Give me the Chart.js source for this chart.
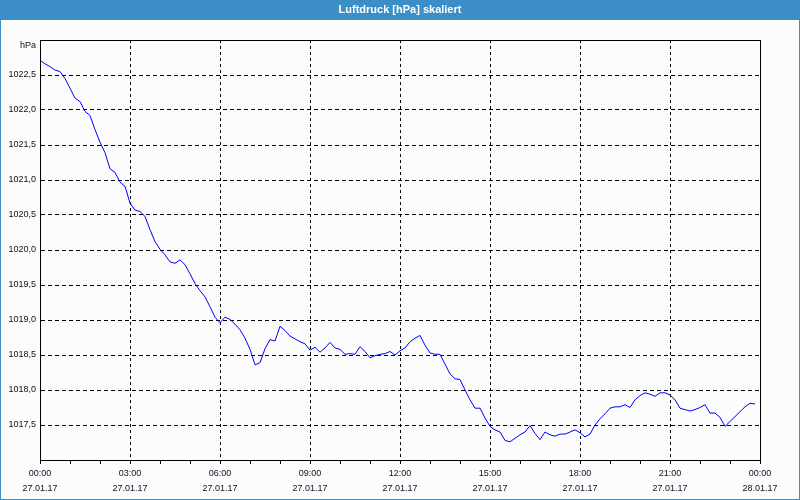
<!DOCTYPE html>
<html>
<head>
<meta charset="utf-8">
<script src="https://cdn.jsdelivr.net/npm/chart.js@4.4.1/dist/chart.umd.min.js"></script>
<style>
html,body{margin:0;padding:0;background:#fbfcfb;}
canvas{display:block;}
</style>
</head>
<body>
<canvas id="c" width="800" height="500"></canvas>
<script>
// minutes since 27.01.17 00:00
const minutes = [
  0,10,20,30,40,50,60,70,80,90,100,110,120,130,140,150,160,170,180,190,200,210,220,230,
  240,250,260,270,280,290,300,310,320,330,340,350,360,370,380,390,400,410,420,430,440,450,460,470,
  480,490,500,510,520,530,540,550,560,570,580,590,600,610,620,630,640,650,660,670,680,690,700,710,
  720,730,740,750,760,770,780,790,800,810,820,830,840,850,860,870,880,890,900,910,920,930,940,950,
  960,970,980,990,1000,1010,1020,1030,1040,1050,1060,1070,1080,1090,1100,1110,1120,1130,1140,1150,1160,1170,1180,1190,
  1200,1210,1220,1230,1240,1250,1260,1270,1280,1290,1300,1310,1320,1330,1340,1350,1360,1370,1380,1390,1400,1410,1420,1430
];
// pressure in hPa
const pressure = [
  1022.71,1022.66,1022.62,1022.57,1022.55,1022.45,1022.31,1022.17,1022.12,1021.98,1021.92,1021.72,
  1021.54,1021.39,1021.16,1021.11,1020.97,1020.91,1020.67,1020.57,1020.55,1020.48,1020.29,1020.12,
  1020.01,1019.93,1019.83,1019.81,1019.86,1019.79,1019.66,1019.52,1019.42,1019.33,1019.19,1019.04,
  1018.96,1019.04,1019.01,1018.94,1018.86,1018.74,1018.58,1018.36,1018.39,1018.59,1018.72,1018.70,
  1018.91,1018.85,1018.77,1018.73,1018.69,1018.66,1018.57,1018.61,1018.54,1018.60,1018.68,1018.60,
  1018.58,1018.51,1018.52,1018.51,1018.62,1018.55,1018.46,1018.49,1018.51,1018.52,1018.55,1018.50,
  1018.56,1018.60,1018.69,1018.74,1018.78,1018.64,1018.53,1018.51,1018.51,1018.37,1018.23,1018.16,
  1018.15,1018.00,1017.86,1017.74,1017.74,1017.60,1017.48,1017.43,1017.40,1017.28,1017.26,1017.31,
  1017.36,1017.40,1017.49,1017.38,1017.29,1017.40,1017.36,1017.34,1017.37,1017.37,1017.40,1017.43,
  1017.39,1017.33,1017.37,1017.50,1017.59,1017.66,1017.74,1017.76,1017.76,1017.79,1017.75,1017.86,
  1017.92,1017.96,1017.94,1017.91,1017.96,1017.96,1017.93,1017.86,1017.74,1017.72,1017.70,1017.72,
  1017.75,1017.79,1017.67,1017.67,1017.61,1017.48,1017.55,1017.62,1017.69,1017.76,1017.81,1017.80
];
const chartTitle = 'Luftdruck [hPa] skaliert';
const unitLabel = 'hPa';
const xTickTimes = ['00:00','03:00','06:00','09:00','12:00','15:00','18:00','21:00','00:00'];
const xTickDates = ['27.01.17','27.01.17','27.01.17','27.01.17','27.01.17','27.01.17','27.01.17','27.01.17','28.01.17'];

const points = minutes.map((m, i) => ({x: m, y: pressure[i]}));

const framePlugin = {
  id: 'frame',
  beforeDraw(chart) {
    const ctx = chart.ctx;
    ctx.save();
    ctx.fillStyle = '#fbfcfb';
    ctx.fillRect(0, 0, chart.width, chart.height);
    ctx.fillStyle = '#3c8fc6';
    ctx.fillRect(0, 0, chart.width, 20);
    ctx.restore();
  },
  afterDraw(chart) {
    const ctx = chart.ctx;
    const a = chart.chartArea;
    ctx.save();
    ctx.strokeStyle = '#000';
    ctx.lineWidth = 1;
    ctx.strokeRect(Math.round(a.left) + 0.5, Math.round(a.top) + 0.5, Math.round(a.right - a.left), Math.round(a.bottom - a.top));
    ctx.strokeStyle = '#3c8fc6';
    ctx.lineWidth = 2;
    ctx.strokeRect(0, 0, chart.width, chart.height);
    ctx.restore();
  }
};

Chart.defaults.font.family = "'Liberation Sans', Arial, sans-serif";

new Chart(document.getElementById('c'), {
  type: 'line',
  data: {
    datasets: [{
      data: points,
      borderColor: '#0000ff',
      borderWidth: 1,
      pointRadius: 0,
      tension: 0,
      fill: false
    }]
  },
  options: {
    responsive: false,
    animation: false,
    devicePixelRatio: 1,
    layout: { padding: { left: 0, right: 0, top: 0, bottom: 0 } },
    plugins: {
      legend: { display: false },
      tooltip: { enabled: false },
      title: {
        display: true,
        text: chartTitle,
        color: '#ffffff',
        font: { size: 11, weight: 'bold' },
        padding: { top: 3, bottom: 23.8 }
      }
    },
    scales: {
      x: {
        type: 'linear',
        min: 0,
        max: 1440,
        afterFit(s) { s.height = 40; },
        afterBuildTicks(s) {
          const t = [];
          for (let v = 0; v <= 1440; v += 60) t.push({value: v});
          s.ticks = t;
        },
        ticks: {
          autoSkip: false,
          maxRotation: 0,
          padding: 2,
          color: '#101028',
          font: { size: 9, lineHeight: 1.65 },
          callback(v) {
            if (v % 180 !== 0) return '';
            const i = v / 180;
            return [xTickTimes[i], xTickDates[i]];
          }
        },
        grid: {
          drawTicks: true,
          tickLength: 4,
          tickColor: '#000',
          lineWidth: 1,
          color(ctx) {
            const v = ctx.tick ? ctx.tick.value : 0;
            return (v % 180 === 0 && v !== 0 && v !== 1440) ? '#000' : 'rgba(0,0,0,0)';
          }
        },
        border: { display: true, color: '#000', dash: [3, 3] }
      },
      y: {
        type: 'linear',
        position: 'left',
        min: 1017,
        max: 1023,
        afterFit(s) { s.width = 40; },
        afterBuildTicks(s) {
          const t = [];
          for (let v = 1017; v <= 1023.001; v += 0.5) t.push({value: Math.round(v * 10) / 10});
          s.ticks = t;
        },
        ticks: {
          autoSkip: false,
          padding: 4,
          color: '#101010',
          font: { size: 9, lineHeight: 1.3 },
          callback(v) {
            if (v === 1017) return '';
            if (v === 1023) return ['', unitLabel];
            return v.toFixed(1).replace('.', ',');
          }
        },
        grid: {
          drawTicks: false,
          lineWidth: 1,
          color(ctx) {
            const v = ctx.tick ? ctx.tick.value : 0;
            return (v === 1017 || v === 1023) ? 'rgba(0,0,0,0)' : '#000';
          }
        },
        border: { display: true, color: '#000', dash: [4, 3] }
      },
      yRight: {
        type: 'linear',
        position: 'right',
        min: 1017,
        max: 1023,
        afterFit(s) { s.width = 40; },
        ticks: { display: false },
        grid: { display: false, drawTicks: false },
        border: { display: false }
      }
    }
  },
  plugins: [framePlugin]
});
</script>
</body>
</html>
